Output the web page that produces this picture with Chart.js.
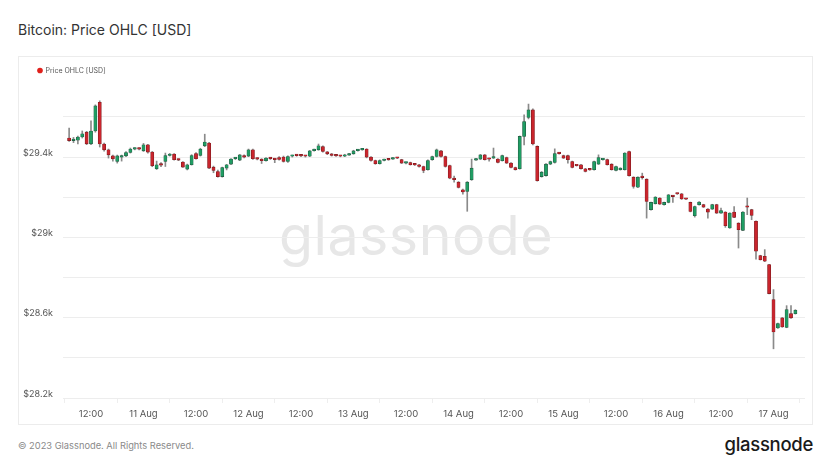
<!DOCTYPE html>
<html>
<head>
<meta charset="utf-8">
<script src="https://cdn.jsdelivr.net/npm/chart.js@4.4.0/dist/chart.umd.min.js"></script>
<style>
  html, body { margin: 0; padding: 0; background: #ffffff; }
  body { width: 832px; height: 468px; position: relative; overflow: hidden; font-family: Inter, "Noto Sans", sans-serif; }
  #title { position: absolute; left: 18px; top: 21px; font-size: 14px; color: #333; }
  #card { position: absolute; left: 18px; top: 56px; width: 795px; height: 369px; border: 1px solid #ececec; box-sizing: border-box; }
  #wm { position: absolute; left: 0; width: 832px; top: 201px; text-align: center; font-size: 55.5px; color: #e7e7e7; letter-spacing: 0.5px; }
  #wrap { position: absolute; left: 18px; top: 57px; width: 795px; height: 367px; }
  #foot { position: absolute; left: 18px; top: 440px; font-size: 9.3px; color: #8a8a8a; }
  #logo { position: absolute; right: 19px; top: 433px; font-size: 18.5px; color: #1a1a1a; font-weight: 500; letter-spacing: -0.3px; }
</style>
</head>
<body>
<div id="title">Bitcoin: Price OHLC [USD]</div>
<div id="card"></div>
<div id="wm">glassnode</div>
<div id="wrap"><canvas id="c" width="795" height="367"></canvas></div>
<div id="foot">© 2023 Glassnode. All Rights Reserved.</div>
<div id="logo">glassnode</div>
<script>
// Hourly candles, first candle = 10 Aug 2023 07:00 (hour offsets from 10 Aug 00:00)
const firstHour = 7;
const open = [
29495,29482,29484,29500,29524,29466,29530,29673,29465,29436,29406,29378,29400,29406,29423,29440,29442,29431,29461,29425,29342,
29362,29378,29408,29415,29387,29375,29340,29362,29418,29408,29456,29470,29350,29328,29303,29345,29365,29392,29385,29408,
29405,29436,29392,29388,29382,29395,29390,29398,29400,29378,29404,29408,29407,29406,29404,29432,29436,29452,29426,29416,29408,29406,
29404,29410,29416,29432,29436,29440,29400,29383,29367,29383,29387,29390,29395,29387,29370,29373,29362,29362,29353,29337,
29387,29403,29431,29403,29358,29295,29275,29237,29229,29287,29385,29390,29411,29390,29395,29390,29382,29398,29370,29348,29342,29503,
29597,29635,29453,29303,29308,29365,29373,29418,29407,29407,29378,29358,29362,29342,29337,29337,29365,29387,29387,29365,
29333,29337,29337,29428,29300,29250,29299,29290,29138,29168,29196,29163,29174,29204,29217,29217,29191,29174,29108,29163,
29163,29141,29141,29163,29121,29126,29047,29126,29071,29035,29151,29138,29080,28909,28906,28864,28690,28549,28599,28552,28620,28620
];
const high = [
29545,29498,29505,29530,29528,29580,29660,29680,29470,29440,29410,29410,29410,29428,29445,29446,29446,29468,29464,29428,29380,
29372,29420,29418,29418,29390,29378,29365,29412,29422,29444,29514,29474,29355,29335,29350,29364,29392,29398,29413,29411,
29440,29440,29396,29392,29398,29398,29394,29402,29405,29406,29410,29412,29410,29408,29433,29440,29465,29456,29428,29418,29410,29409,
29414,29419,29434,29438,29442,29442,29402,29385,29386,29390,29389,29397,29398,29389,29373,29375,29365,29364,29355,29386,
29405,29440,29434,29405,29360,29305,29278,29240,29278,29390,29394,29413,29413,29395,29445,29392,29410,29400,29372,29350,29505,29610,
29664,29640,29456,29328,29368,29380,29441,29421,29410,29410,29380,29361,29364,29344,29340,29380,29411,29390,29390,29367,
29355,29347,29422,29430,29302,29302,29320,29292,29176,29203,29198,29176,29214,29206,29219,29219,29193,29176,29156,29178,
29165,29143,29165,29165,29146,29128,29123,29154,29073,29128,29196,29140,29082,28911,28939,28866,28740,28573,28601,28660,28660,28640
];
const low = [
29478,29472,29466,29495,29462,29462,29524,29450,29430,29395,29380,29370,29380,29402,29420,29436,29436,29428,29420,29352,29338,
29352,29353,29405,29385,29382,29348,29336,29360,29390,29405,29452,29342,29322,29300,29300,29336,29362,29388,29382,29396,
29402,29388,29386,29368,29380,29388,29372,29385,29375,29374,29400,29404,29402,29400,29402,29430,29434,29425,29412,29405,29403,29401,
29402,29408,29414,29430,29434,29396,29380,29364,29365,29381,29384,29388,29392,29368,29366,29360,29358,29350,29322,29335,
29384,29400,29400,29350,29292,29275,29246,29215,29130,29284,29383,29388,29385,29380,29393,29371,29380,29368,29346,29335,29340,29461,
29590,29460,29280,29300,29305,29362,29370,29414,29393,29370,29346,29355,29340,29326,29334,29335,29363,29384,29360,29335,
29331,29335,29335,29305,29245,29248,29290,29096,29136,29166,29164,29161,29172,29174,29214,29189,29188,29127,29101,29161,
29149,29096,29139,29119,29119,29050,29045,29098,28947,29033,29113,29088,28892,28887,28879,28718,28445,28547,28552,28550,28597,28618
];
const close = [
29482,29485,29500,29516,29466,29530,29655,29465,29436,29411,29391,29406,29406,29423,29440,29442,29440,29461,29425,29357,29362,
29360,29408,29415,29387,29385,29350,29362,29408,29392,29440,29475,29345,29333,29303,29348,29362,29390,29395,29411,29400,
29436,29392,29390,29382,29395,29392,29387,29388,29378,29403,29408,29407,29406,29404,29431,29436,29456,29428,29416,29408,29406,29404,
29410,29416,29431,29436,29440,29400,29383,29367,29383,29387,29386,29395,29394,29370,29371,29362,29361,29353,29333,29383,
29403,29436,29403,29353,29295,29287,29249,29226,29275,29345,29392,29411,29387,29389,29403,29373,29408,29370,29348,29337,29503,29577,
29635,29465,29282,29325,29365,29378,29418,29417,29395,29387,29348,29357,29342,29328,29336,29378,29398,29388,29362,29337,
29353,29345,29420,29307,29254,29300,29298,29179,29174,29201,29166,29174,29212,29203,29216,29191,29190,29129,29154,29176,
29151,29126,29163,29121,29134,29058,29121,29100,29038,29126,29150,29110,28931,28889,28881,28720,28529,28571,28554,28640,28599,28637
];
const xTicks = [12,24,36,48,60,72,84,96,108,120,132,144,156,168];
const dayNames = {24:'11 Aug',48:'12 Aug',72:'13 Aug',96:'14 Aug',120:'15 Aug',144:'16 Aug',168:'17 Aug'};
const yTicks = [28200,28400,28600,28800,29000,29200,29400,29600];
const yLabelled = [28200,28600,29000,29400];

const UP = '#1f9d63', UP_B = '#23553f', DN = '#c9252d', DN_B = '#7a1a1e', WICK = '#8a8a8a';

const bodies = [], wicks = [], fills = [], borders = [];
for (let i = 0; i < close.length; i++) {
  const x = firstHour + i;
  bodies.push({x: x, y: [open[i], close[i]]});
  wicks.push({x: x, y: [low[i], high[i]]});
  const up = close[i] >= open[i];
  fills.push(up ? UP : DN);
  borders.push(up ? UP_B : DN_B);
}

Chart.defaults.font.family = 'Inter, "Noto Sans", sans-serif';

new Chart(document.getElementById('c'), {
  type: 'bar',
  data: {
    datasets: [
      {
        label: 'Price OHLC [USD]',
        data: bodies,
        backgroundColor: fills,
        borderColor: borders,
        borderWidth: 0.6,
        borderSkipped: false,
        barThickness: 3.2,
        minBarLength: 1.5,
        grouped: false,
        order: 1
      },
      {
        label: 'wick',
        data: wicks,
        backgroundColor: WICK,
        borderWidth: 0,
        barThickness: 1,
        grouped: false,
        order: 2
      }
    ]
  },
  options: {
    responsive: false,
    animation: false,
    layout: { padding: { left: 5, right: 8, top: -5, bottom: 0 } },
    plugins: {
      tooltip: { enabled: false },
      legend: {
        display: true,
        position: 'top',
        align: 'start',
        labels: {
          usePointStyle: true,
          pointStyle: 'circle',
          boxWidth: 4,
          boxHeight: 4,
          padding: 15,
          color: '#555',
          font: { size: 7 },
          generateLabels: () => [{
            text: 'Price OHLC [USD]', fillStyle: '#e0201b', strokeStyle: '#e0201b',
            lineWidth: 0, pointStyle: 'circle', datasetIndex: 0, hidden: false, fontColor: '#555'
          }]
        }
      }
    },
    scales: {
      x: {
        type: 'linear',
        min: 5.6,
        max: 175.2,
        offset: false,
        afterBuildTicks: (axis) => { axis.ticks = xTicks.map(v => ({value: v})); },
        afterFit: (axis) => { axis.height = 26; },
        grid: { drawOnChartArea: false, drawTicks: true, tickLength: 5, color: '#eeeeee' },
        border: { display: false },
        ticks: {
          autoSkip: false,
          maxRotation: 0,
          padding: 5,
          color: '#555',
          font: { size: 9.5 },
          callback: (v) => dayNames[v] ? dayNames[v] : '12:00'
        }
      },
      y: {
        type: 'linear',
        min: 28200,
        max: 29764,
        afterBuildTicks: (axis) => { axis.ticks = yTicks.map(v => ({value: v})); },
        afterFit: (axis) => { axis.width = 40; },
        grid: { drawTicks: false, color: '#ededed' },
        border: { display: false },
        ticks: {
          padding: 10,
          labelOffset: -4,
          color: '#555',
          font: { size: 9 },
          callback: (v) => yLabelled.includes(v) ? '$' + (v / 1000) + 'k' : ''
        }
      }
    }
  }
});
</script>
</body>
</html>
